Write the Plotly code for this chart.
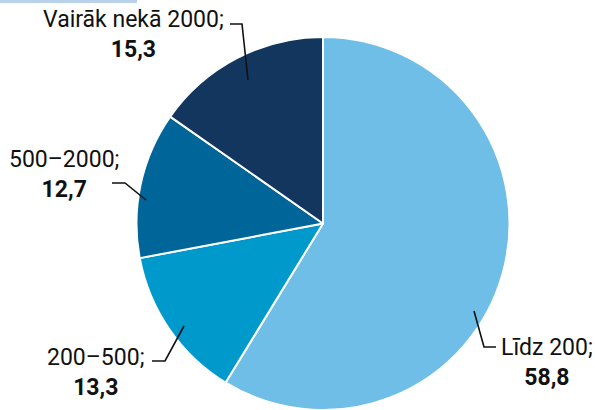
import plotly.graph_objects as go

categories = ["Līdz 200", "200–500", "500–2000", "Vairāk nekā 2000"]
values = [58.8, 13.3, 12.7, 15.3]
value_labels = ["58,8", "13,3", "12,7", "15,3"]
colors = ["#6ebee8", "#0099cb", "#00669a", "#12365e"]

W, H = 595, 410
FONT = "Liberation Sans Narrow, Roboto, Arial Narrow, sans-serif"

fig = go.Figure(go.Pie(
    labels=categories, values=values, sort=False, direction="clockwise",
    rotation=0, textinfo="none", hoverinfo="label+value",
    marker=dict(colors=colors, line=dict(color="white", width=2)),
    domain=dict(x=[(323 - 188) / W, (323 + 188) / W], y=[0, 1 - 37 / H]),
    showlegend=False,
))

def px(x, y):
    return x / W, 1 - y / H

# label positions (pixel centres) and leader paths
labels_pos = {
    "Vairāk nekā 2000": (133, 35),
    "500–2000": (64, 175),
    "200–500": (96, 372),
    "Līdz 200": (547, 362),
}
leaders = [
    [(230, 24), (242, 24), (248, 80)],
    [(112, 183), (125, 183), (146, 200)],
    [(152, 361), (165, 361), (184, 326)],
    [(474, 311), (484, 347), (496, 347)],
]

annotations = []
for cat, lab in zip(categories, value_labels):
    cx, cy = labels_pos[cat]
    x, y = px(cx, cy)
    annotations.append(dict(
        x=x, y=y, xref="paper", yref="paper", showarrow=False,
        text=f"{cat};<br><b>{lab}</b>", align="center",
        font=dict(family=FONT, size=23, color="#111111"),
        xanchor="center", yanchor="middle",
    ))

shapes = []
for pts in leaders:
    path = "M " + " L ".join(f"{px(a, b)[0]},{px(a, b)[1]}" for a, b in pts)
    shapes.append(dict(type="path", path=path, xref="paper", yref="paper",
                       line=dict(color="#111111", width=1.6)))
shapes.append(dict(type="rect", xref="paper", yref="paper",
                   x0=0, x1=137 / W, y0=1 - 3 / H, y1=1,
                   fillcolor="#b9d2ea", line=dict(width=0)))

fig.update_layout(
    width=W, height=H, margin=dict(l=0, r=0, t=0, b=0),
    paper_bgcolor="white", plot_bgcolor="white",
    annotations=annotations, shapes=shapes,
)

fig.write_html("out.html", config={"displayModeBar": False},
               post_script="document.body.style.margin='0';document.body.style.padding='0';")
